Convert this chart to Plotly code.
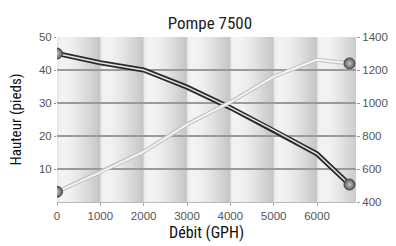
import plotly.graph_objects as go

# ---- data ----
debit = [0, 1000, 2000, 3000, 4000, 5000, 6000, 6750]
hauteur = [45, 42.2, 40, 34.8, 28.6, 21.8, 14.6, 5.3]
second_curve = [462, 580, 705, 870, 1005, 1160, 1262, 1240]
x_ticks = [0, 1000, 2000, 3000, 4000, 5000, 6000]
y_left_ticks = [10, 20, 30, 40, 50]
y_right_ticks = [400, 600, 800, 1000, 1200, 1400]
title_text = "Pompe 7500"
x_title = "Débit (GPH)"
y_title = "Hauteur (pieds)"

X_MAX = 6900
COND = "Liberation Sans Narrow, Roboto Condensed, Arial Narrow, sans-serif"
REG = "Liberation Sans, Arial, sans-serif"

fig = go.Figure()

# dark curve (left axis): outer dark, inner light
fig.add_trace(go.Scatter(x=debit, y=hauteur, mode="lines", line=dict(color="#2b2b2b", width=5),
                         hoverinfo="skip", showlegend=False))
fig.add_trace(go.Scatter(x=debit, y=hauteur, mode="lines", line=dict(color="#e6e6e6", width=1.5),
                         hoverinfo="skip", showlegend=False))
# light curve (right axis)
fig.add_trace(go.Scatter(x=debit, y=second_curve, yaxis="y2", mode="lines",
                         line=dict(color="#c4c4c4", width=4.2), hoverinfo="skip", showlegend=False))
fig.add_trace(go.Scatter(x=debit, y=second_curve, yaxis="y2", mode="lines",
                         line=dict(color="#f6f6f6", width=1.8), hoverinfo="skip", showlegend=False))

marker_style = dict(size=11, color="#5a5a5a", line=dict(color="#444", width=1),
                    gradient=dict(type="radial", color="#c8c8c8"))
fig.add_trace(go.Scatter(x=[debit[0], debit[-1]], y=[hauteur[0], hauteur[-1]], mode="markers",
                         marker=marker_style, showlegend=False))
fig.add_trace(go.Scatter(x=[debit[0], debit[-1]], y=[second_curve[0], second_curve[-1]], yaxis="y2",
                         mode="markers", marker=marker_style, showlegend=False))

# background bands with cylindrical gradient (light left, dark right)
profile = [(0.00, 224), (0.04, 240), (0.15, 243), (0.30, 240), (0.45, 233),
           (0.60, 224), (0.75, 214), (0.88, 205), (0.97, 199), (1.00, 197)]


def shade(f):
    for i in range(len(profile) - 1):
        f0, c0 = profile[i]
        f1, c1 = profile[i + 1]
        if f0 <= f <= f1:
            return c0 + (c1 - c0) * (f - f0) / (f1 - f0)
    return profile[-1][1]


N = 25
shapes = []
start = 0
while start < X_MAX:
    for k in range(N):
        x0 = start + k * 1000 / N
        if x0 >= X_MAX:
            break
        x1 = min(start + (k + 1) * 1000 / N + 20, X_MAX)
        c = int(round(shade((k + 0.5) / N)))
        shapes.append(dict(type="rect", xref="x", yref="paper", x0=x0, x1=x1, y0=0, y1=1,
                           fillcolor=f"rgb({c},{c},{c})", line=dict(width=0), layer="below"))
    start += 1000

fig.update_layout(
    width=396, height=246,
    margin=dict(l=57, r=40, t=37, b=44),
    paper_bgcolor="white", plot_bgcolor="white",
    shapes=shapes,
    title=dict(text=title_text, x=0.53, xanchor="center", y=0.905, yanchor="middle",
               font=dict(family=COND, size=17, color="#222")),
    xaxis=dict(range=[0, X_MAX], tickvals=x_ticks, ticks="outside", ticklen=3, tickcolor="#aaa",
               showgrid=False, zeroline=False, showline=True, linecolor="#bbb", linewidth=1,
               automargin=False,
               tickfont=dict(family=REG, size=11.5, color="#555"),
               title=dict(text=x_title, font=dict(family=COND, size=16, color="#111"), standoff=6)),
    yaxis=dict(range=[0, 50], tickvals=y_left_ticks, ticks="outside", ticklen=2, tickcolor="#999",
               showgrid=True, gridcolor="#9a9a9a", gridwidth=1.5, zeroline=False,
               automargin=False,
               tickfont=dict(family=REG, size=11.5, color="#555"),
               title=dict(text=y_title, font=dict(family=COND, size=15, color="#111"), standoff=13)),
    yaxis2=dict(range=[400, 1400], tickvals=y_right_ticks, overlaying="y", side="right",
                showgrid=False, zeroline=False, ticks="outside", ticklen=3, tickcolor="#999",
                automargin=False,
                tickfont=dict(family=REG, size=11.5, color="#555")),
)

fig.write_html("out.html", config={"displayModeBar": False},
               post_script="document.body.style.margin='0';")
